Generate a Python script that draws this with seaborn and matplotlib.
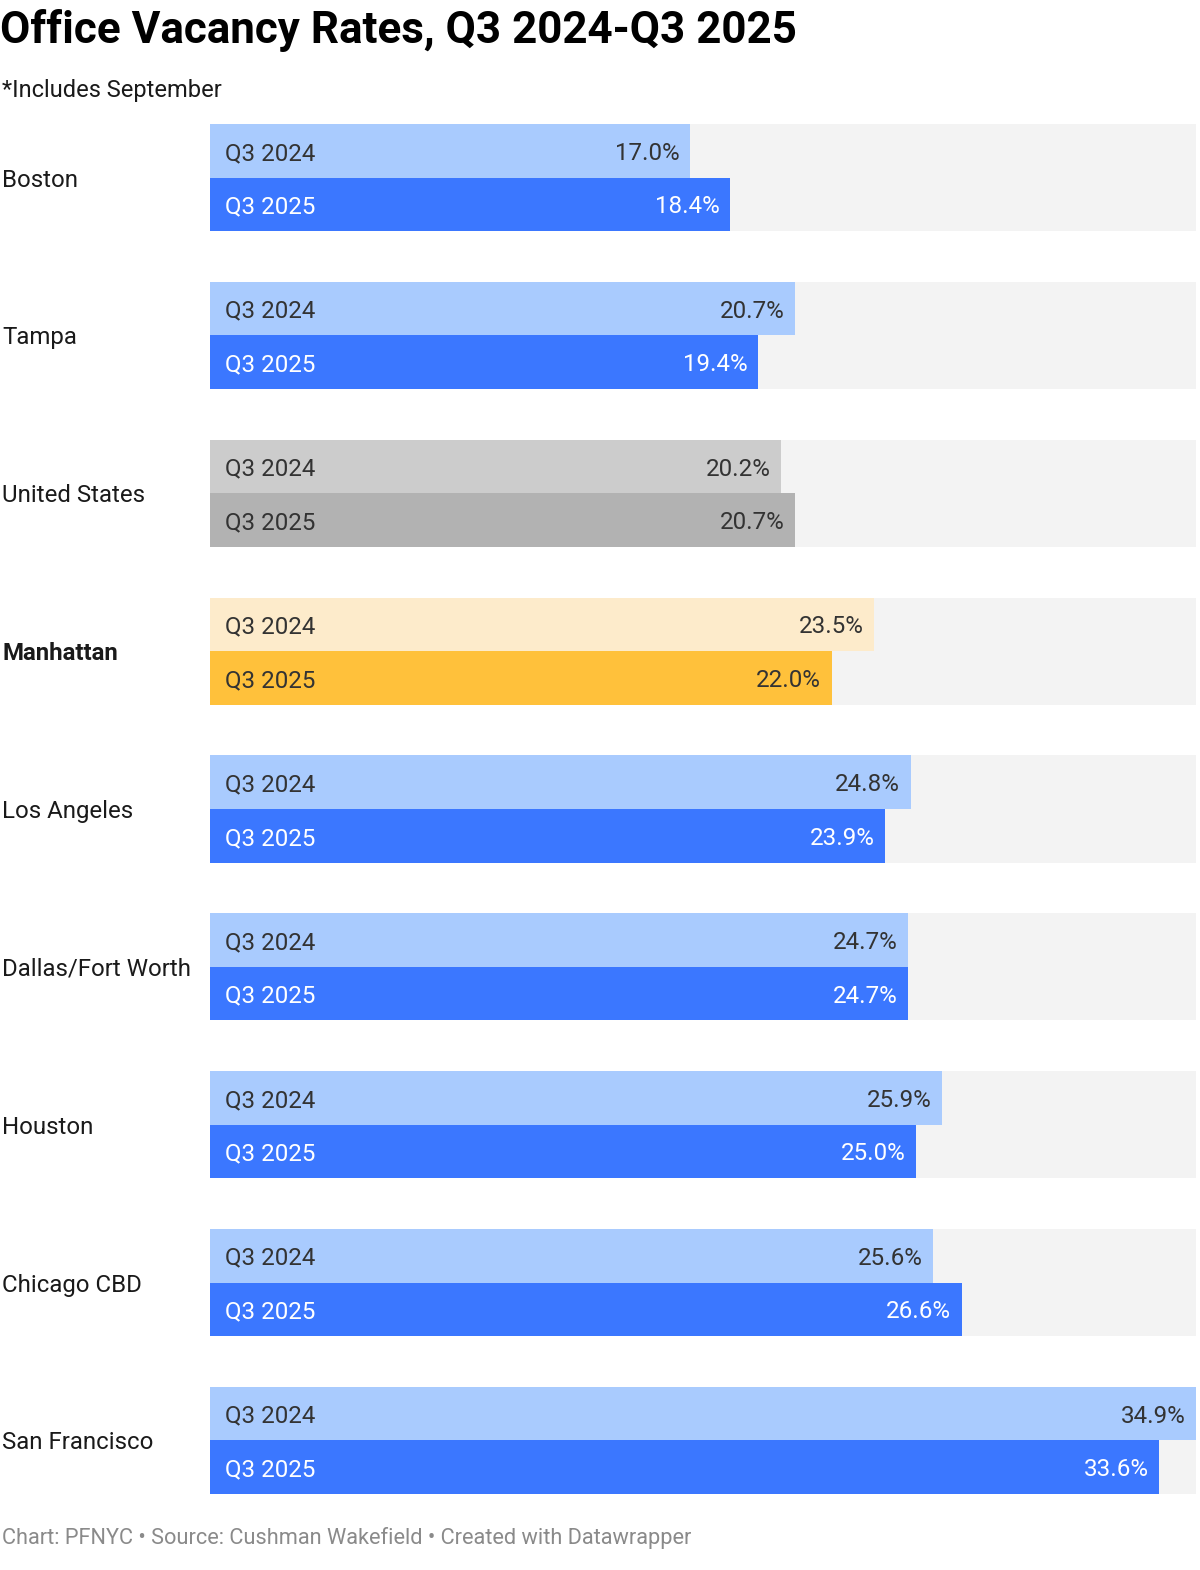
import matplotlib
matplotlib.use("Agg")
import matplotlib.pyplot as plt
import matplotlib.transforms as mtransforms
import seaborn as sns
import pandas as pd

# data
cities = ["Boston", "Tampa", "United States", "Manhattan", "Los Angeles",
          "Dallas/Fort Worth", "Houston", "Chicago CBD", "San Francisco"]
q3_2024 = [17.0, 20.7, 20.2, 23.5, 24.8, 24.7, 25.9, 25.6, 34.9]
q3_2025 = [18.4, 19.4, 20.7, 22.0, 23.9, 24.7, 25.0, 26.6, 33.6]
periods = ["Q3 2024", "Q3 2025"]

# colours
light_blue = "#a9cbfe"
dark_blue = "#3b77ff"
bg_grey = "#f3f3f3"
special = {"United States": ("#cccccc", "#b2b2b2"),
           "Manhattan": ("#fdebcb", "#ffc13b")}
text_dark = "#333333"

df = pd.DataFrame({
    "city": cities * 2,
    "period": [periods[0]] * len(cities) + [periods[1]] * len(cities),
    "value": q3_2024 + q3_2025,
})
xmax = max(q3_2024 + q3_2025)

sns.set_theme(style="white")
plt.rcParams["font.family"] = ["Roboto", "DejaVu Sans"]

fig = plt.figure(figsize=(12, 15.7), dpi=100)
ax = fig.add_axes([210 / 1200, 1 - 1494 / 1570, 986 / 1200, 1370 / 1570])

# grey track behind each pair
sns.barplot(x=[xmax] * len(cities), y=cities, order=cities, color=bg_grey,
            width=0.68, saturation=1, linewidth=0, errorbar=None, ax=ax)
# the actual bars
sns.barplot(data=df, x="value", y="city", hue="period", order=cities,
            hue_order=periods, palette=[light_blue, dark_blue], width=0.68,
            saturation=1, linewidth=0, errorbar=None, legend=False, ax=ax)

for h, cont in enumerate(ax.containers[1:]):
    for i, bar in enumerate(cont):
        city = cities[i]
        txt_col = "white" if (h == 1 and city not in special) else text_dark
        if city in special:
            bar.set_facecolor(special[city][h])
        yc = bar.get_y() + bar.get_height() / 2
        val = bar.get_width()
        ax.annotate(periods[h], xy=(0, yc), xytext=(10.5, 0), textcoords="offset points",
                    ha="left", va="center_baseline", fontsize=17.4, color=txt_col)
        ax.annotate(f"{val:.1f}%", xy=(val, yc), xytext=(-7.5, 0), textcoords="offset points",
                    ha="right", va="center_baseline", fontsize=17.4, color=txt_col)

ax.set_xlim(0, xmax)
ax.set_ylim(len(cities) - 1 + 0.34, -0.34)
ax.set_xticks([])
ax.set_yticks([])
ax.set_xlabel("")
ax.set_ylabel("")
for s in ax.spines.values():
    s.set_visible(False)

# row labels on the left
trans = mtransforms.blended_transform_factory(fig.transFigure, ax.transData)
for i, city in enumerate(cities):
    ax.text(2 / 1200, i, city, transform=trans, ha="left", va="center_baseline",
            fontsize=17.3, color="#1a1a1a",
            fontweight="bold" if city == "Manhattan" else "normal", clip_on=False)

# title, subtitle, footer
fig.text(0, 1 - 30 / 1570, "Office Vacancy Rates, Q3 2024-Q3 2025", ha="left",
         va="center", fontsize=31.7, fontweight="bold", color="black")
fig.text(2 / 1200, 1 - 90 / 1570, "*Includes September", ha="left",
         va="center", fontsize=17, color="#1a1a1a")
fig.text(2 / 1200, 1 - 1538 / 1570,
         "Chart: PFNYC \u2022 Source: Cushman Wakefield \u2022 Created with Datawrapper",
         ha="left", va="center", fontsize=15.7, color="#8a8a8a")

plt.savefig("out.png", dpi=100)
plt.close()
